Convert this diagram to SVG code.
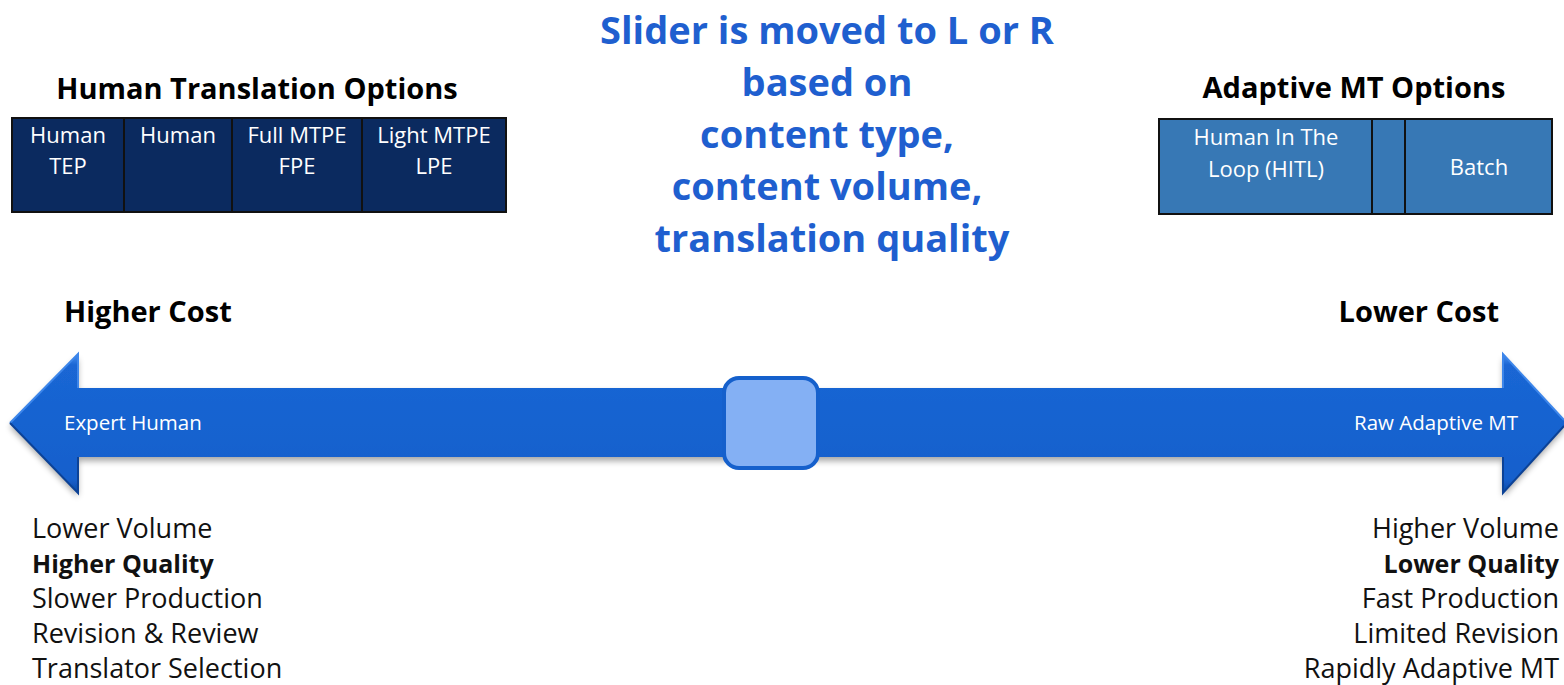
<svg xmlns="http://www.w3.org/2000/svg" width="1564" height="685" viewBox="0 0 1564 685">
  <style>
    .head { font-family: "Open Sans", "Noto Sans", sans-serif; font-weight: 700; font-size: 29px; fill: #000; }
    .center { font-family: "Open Sans", "Noto Sans", sans-serif; font-weight: 700; font-size: 38px; fill: #1f5fcf; text-anchor: middle; }
    .cell { font-family: "Open Sans", "Noto Sans", sans-serif; font-size: 22px; fill: #fff; text-anchor: middle; }
    .list { font-family: "Open Sans", "Noto Sans", sans-serif; font-size: 27px; fill: #111; }
    .bold { font-weight: 700; font-size: 25px; }
    .arrowtxt { font-family: "Open Sans", "Noto Sans", sans-serif; font-size: 20.5px; fill: #fff; }
    .navy { fill: #0b2a5f; stroke: #111; stroke-width: 2; }
    .steel { fill: #3778b5; stroke: #111; stroke-width: 2; }
  </style>
  <defs>
    <linearGradient id="shaftShade" x1="0" y1="0" x2="0" y2="1">
      <stop offset="0" stop-color="#4a8ff0"/>
      <stop offset="0.08" stop-color="#1a66d4"/>
      <stop offset="0.9" stop-color="#1560cc"/>
      <stop offset="1" stop-color="#0d4aa6"/>
    </linearGradient>
    <filter id="dropShadow" x="-5%" y="-20%" width="110%" height="150%">
      <feGaussianBlur in="SourceAlpha" stdDeviation="3"/>
      <feOffset dx="0" dy="4" result="b"/>
      <feComponentTransfer><feFuncA type="linear" slope="0.35"/></feComponentTransfer>
      <feMerge><feMergeNode/><feMergeNode in="SourceGraphic"/></feMerge>
    </filter>
  </defs>

  <rect width="1564" height="685" fill="#fff"/>

  <!-- Human translation options -->
  <g id="human-options">
    <text class="head" x="257" y="99" text-anchor="middle">Human Translation Options</text>
    <rect class="navy" x="12" y="118" width="112" height="94"/>
    <rect class="navy" x="124" y="118" width="108" height="94"/>
    <rect class="navy" x="232" y="118" width="130" height="94"/>
    <rect class="navy" x="362" y="118" width="144" height="94"/>
    <text class="cell" x="68" y="143">Human</text>
    <text class="cell" x="68" y="174">TEP</text>
    <text class="cell" x="178" y="143">Human</text>
    <text class="cell" x="297" y="143">Full MTPE</text>
    <text class="cell" x="297" y="174">FPE</text>
    <text class="cell" x="434" y="143">Light MTPE</text>
    <text class="cell" x="434" y="174">LPE</text>
  </g>

  <!-- Adaptive MT options -->
  <g id="mt-options">
    <text class="head" x="1354" y="98" text-anchor="middle">Adaptive MT Options</text>
    <rect class="steel" x="1159" y="119" width="213" height="95"/>
    <rect class="steel" x="1372" y="119" width="33" height="95"/>
    <rect class="steel" x="1405" y="119" width="147" height="95"/>
    <text class="cell" x="1266" y="145">Human In The</text>
    <text class="cell" x="1266" y="177">Loop (HITL)</text>
    <text class="cell" x="1479" y="175">Batch</text>
  </g>

  <!-- Slider explanation -->
  <g id="slider-note">
    <text class="center" x="827" y="44">Slider is moved to L or R</text>
    <text class="center" x="827" y="96">based on</text>
    <text class="center" x="827" y="148">content type,</text>
    <text class="center" x="827" y="200">content volume,</text>
    <text class="center" x="832" y="252">translation quality</text>
  </g>

  <!-- Cost labels -->
  <g id="cost-labels">
    <text class="head" x="64" y="322">Higher Cost</text>
    <text class="head" x="1499" y="322" text-anchor="end">Lower Cost</text>
  </g>

  <!-- Double-headed scale arrow with slider knob -->
  <g id="scale">
    <path d="M10,423 L78,354 L78,388 L1503,388 L1503,354 L1564,420 L1564,426 L1503,493 L1503,457 L78,457 L78,493 Z"
          fill="url(#shaftShade)" filter="url(#dropShadow)"/>
    <path d="M10,423 L78,354 L78,388 M1503,388 L1503,354 L1564,420" fill="none" stroke="#3d86ea" stroke-width="2"/>
    <path d="M10,423 L78,493 L78,457 M1503,457 L1503,493 L1564,426" fill="none" stroke="#0c4296" stroke-width="2"/>
    <text class="arrowtxt" x="64" y="430">Expert Human</text>
    <text class="arrowtxt" x="1518" y="430" text-anchor="end">Raw Adaptive MT</text>
    <rect id="knob" x="724" y="378" width="94" height="90" rx="15" fill="#84b0f4" stroke="#1560cc" stroke-width="4"/>
  </g>

  <!-- Left-side attributes -->
  <g id="human-traits">
    <text class="list" x="32" y="538">Lower Volume</text>
    <text class="list bold" x="32" y="573">Higher Quality</text>
    <text class="list" x="32" y="608">Slower Production</text>
    <text class="list" x="32" y="643">Revision &amp; Review</text>
    <text class="list" x="32" y="678">Translator Selection</text>
  </g>

  <!-- Right-side attributes -->
  <g id="mt-traits">
    <text class="list" x="1559" y="538" text-anchor="end">Higher Volume</text>
    <text class="list bold" x="1559" y="573" text-anchor="end">Lower Quality</text>
    <text class="list" x="1559" y="608" text-anchor="end">Fast Production</text>
    <text class="list" x="1559" y="643" text-anchor="end">Limited Revision</text>
    <text class="list" x="1559" y="678" text-anchor="end">Rapidly Adaptive MT</text>
  </g>
</svg>
